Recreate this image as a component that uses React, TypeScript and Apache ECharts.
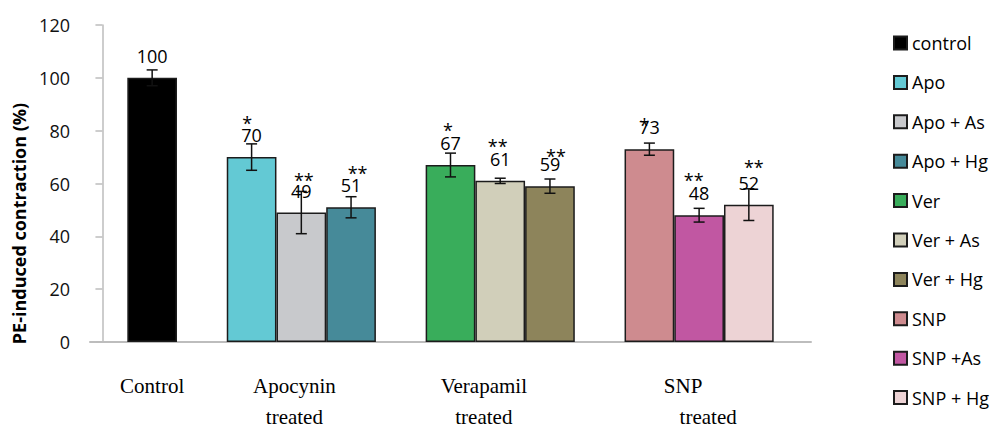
import React, { useEffect, useRef } from "react";
import * as echarts from "echarts";

// Treatment groups shown under the x axis
const groupLabels = ["Control", "Apocynin\ntreated", "Verapamil\ntreated", "SNP\ntreated"];

// One bar per condition
const seriesNames = [
  "control",
  "Apo",
  "Apo + As",
  "Apo + Hg",
  "Ver",
  "Ver + As",
  "Ver + Hg",
  "SNP",
  "SNP +As",
  "SNP + Hg",
];
const means = [100, 70, 49, 51, 67, 61, 59, 73, 48, 52];
const errors = [3, 5, 8, 4, 4.5, 1, 2.7, 2.3, 2.6, 6];
const significance = ["", "*", "**", "**", "*", "**", "**", "*", "**", "**"];
const yTicks = [0, 20, 40, 60, 80, 100, 120];

// Layout: bar slot on the x axis, group label anchors, star nudges (px)
const slots = [1, 3, 4, 5, 7, 8, 9, 11, 12, 13];
const groupAnchors = [1, 3.86, 7.67, 11.93];
const starNudge: [number, number][] = [
  [0, 0],
  [-4.5, -16.5],
  [2.5, -14.5],
  [6.5, -16.5],
  [-2.5, -17],
  [-2.5, -17],
  [6, -12],
  [-5, -6.5],
  [-5.5, -17],
  [5, -20],
];

const colors = [
  "#000000",
  "#63C9D4",
  "#C8C9CC",
  "#468A99",
  "#39AD5B",
  "#D1CFBA",
  "#8D845B",
  "#CE8B8F",
  "#C157A2",
  "#EDD3D5",
];

const SANS = '"Open Sans", "Liberation Sans", sans-serif';
const SERIF = '"Liberation Serif", "Times New Roman", serif';

export default function App() {
  const ref = useRef<HTMLDivElement>(null);

  useEffect(() => {
    if (!ref.current) return;
    const chart = echarts.init(ref.current, null, { renderer: "svg" });

    const barSeries = seriesNames.map((name, i) => ({
      name,
      type: "bar",
      data: [[slots[i], means[i]]],
      barWidth: 49.7,
      barGap: "-100%",
      itemStyle: { color: colors[i], borderColor: "#1c1c1c", borderWidth: 1.5 },
      z: 2,
    }));

    const errorSeries = {
      name: "errors",
      type: "custom",
      z: 5,
      data: means.map((m, i) => [slots[i], m, errors[i], i]),
      encode: { x: 0, y: 1 },
      renderItem: (_params: any, api: any) => {
        const x = api.value(0);
        const m = api.value(1);
        const e = api.value(2);
        const i = api.value(3);
        const top = api.coord([x, m + e]);
        const bot = api.coord([x, m - e]);
        const barTop = api.coord([x, m]);
        const lineStyle = { stroke: "#111", lineWidth: 1.5 };
        const cap = 5.5;
        const children: any[] = [
          { type: "line", shape: { x1: top[0], y1: top[1], x2: bot[0], y2: bot[1] }, style: lineStyle },
          { type: "line", shape: { x1: top[0] - cap, y1: top[1], x2: top[0] + cap, y2: top[1] }, style: lineStyle },
          { type: "line", shape: { x1: bot[0] - cap, y1: bot[1], x2: bot[0] + cap, y2: bot[1] }, style: lineStyle },
          {
            type: "text",
            x: barTop[0],
            y: barTop[1] - 22,
            style: {
              text: String(means[i]),
              font: `18px ${SANS}`,
              fill: "#000",
              textAlign: "center",
              textVerticalAlign: "middle",
            },
          },
        ];
        if (significance[i]) {
          children.push({
            type: "text",
            x: barTop[0] + starNudge[i][0],
            y: barTop[1] - 22 + starNudge[i][1] + 4,
            style: {
              text: significance[i],
              font: `18px ${SANS}`,
              fill: "#000",
              textAlign: "center",
              textVerticalAlign: "middle",
            },
          });
        }
        return { type: "group", children };
      },
    };

    chart.setOption({
      animation: false,
      backgroundColor: "#ffffff",
      grid: { left: 90, right: 181, top: 25, bottom: 82 },
      legend: {
        orient: "vertical",
        left: 893,
        top: 33,
        padding: 0,
        itemWidth: 13,
        itemHeight: 13,
        itemGap: 19.4,
        icon: "rect",
        data: seriesNames,
        textStyle: { fontFamily: SANS, fontSize: 18, color: "#000", lineHeight: 20 },
      },
      xAxis: {
        type: "value",
        min: -0.25,
        max: 14.25,
        splitLine: { show: false },
        axisTick: { show: false },
        axisLine: { show: true, onZero: false, lineStyle: { color: "#BDBDBD", width: 2 } },
        axisLabel: {
          customValues: groupAnchors,
          margin: 28,
          formatter: (v: number) => {
            const idx = groupAnchors.findIndex((a) => Math.abs(a - v) < 1e-6);
            if (idx < 0) return "";
            const lines = groupLabels[idx].split("\n");
            if (idx === 3) return `{l|${lines[0]}}\n{r|${lines[1]}}`;
            return lines.map((t) => `{c|${t}}`).join("\n");
          },
          rich: {
            c: { fontFamily: SERIF, fontSize: 21, lineHeight: 31, color: "#000" },
            l: { fontFamily: SERIF, fontSize: 21, lineHeight: 31, color: "#000", padding: [0, 25, 0, 0] },
            r: { fontFamily: SERIF, fontSize: 21, lineHeight: 31, color: "#000", padding: [0, 0, 0, 25] },
          },
        },
      },
      yAxis: {
        type: "value",
        min: yTicks[0],
        max: yTicks[yTicks.length - 1],
        interval: 20,
        name: "PE-induced contraction (%)",
        nameLocation: "middle",
        nameGap: 58,
        nameTextStyle: {
          fontFamily: SANS,
          fontSize: 18,
          fontWeight: "bold",
          color: "#000",
          padding: [0, 80, 0, 0],
        },
        splitLine: { show: false },
        axisLine: { show: true, lineStyle: { color: "#BDBDBD", width: 1.5 } },
        axisTick: { show: true, length: 7, lineStyle: { color: "#BDBDBD", width: 1.5 } },
        axisLabel: { fontFamily: SANS, fontSize: 18, color: "#111", margin: 20 },
      },
      series: [...barSeries, errorSeries],
    });

    return () => chart.dispose();
  }, []);

  return (
    <div
      ref={ref}
      style={{ position: "fixed", left: 0, top: 0, width: 992, height: 427, background: "#fff" }}
    />
  );
}
